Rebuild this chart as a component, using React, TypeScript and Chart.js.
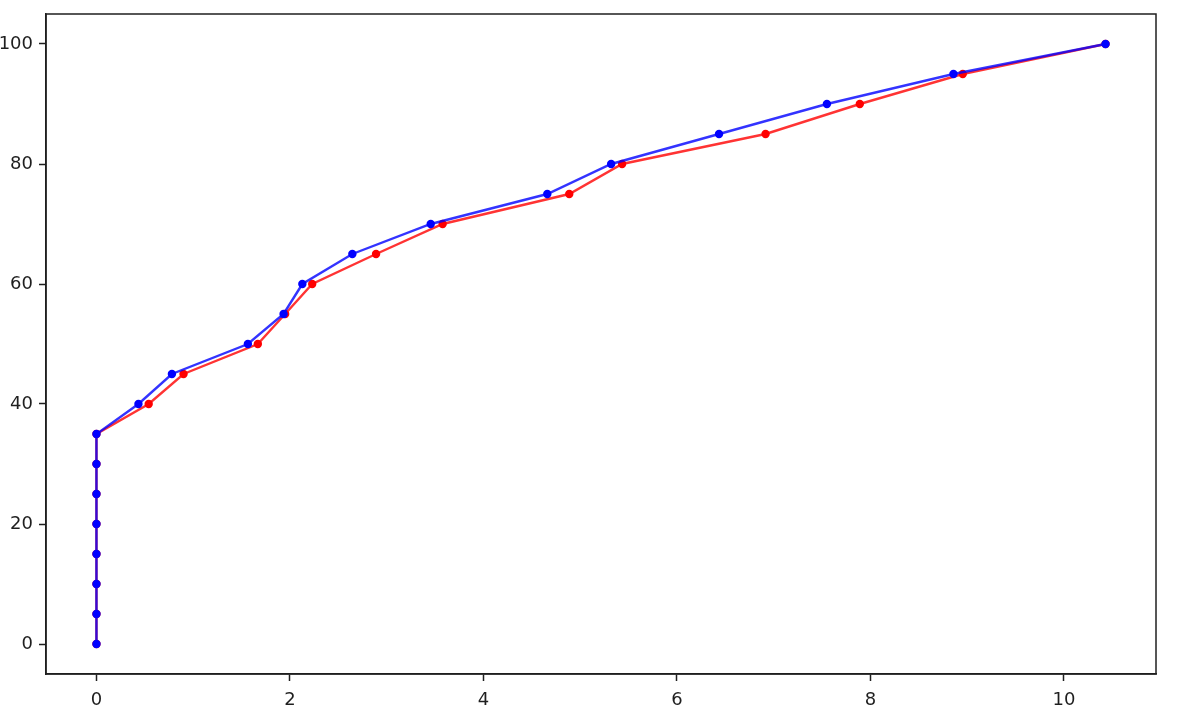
import React, { useEffect, useRef } from 'react';
import { Chart, registerables } from 'chart.js';

Chart.register(...registerables);

// y values shared by both series
const yValues = [0, 5, 10, 15, 20, 25, 30, 35, 40, 45, 50, 55, 60, 65, 70, 75, 80, 85, 90, 95, 100];

// x values
const blueX = [0, 0, 0, 0, 0, 0, 0, 0, 0.434, 0.78, 1.565, 1.934, 2.128, 2.645, 3.455, 4.66, 5.32, 6.435, 7.55, 8.858, 10.43];
const redX = [0, 0, 0, 0, 0, 0, 0, 0, 0.54, 0.9, 1.668, 1.95, 2.23, 2.89, 3.578, 4.887, 5.433, 6.916, 7.89, 8.954, 10.43];

const xTicks = [0, 2, 4, 6, 8, 10];
const yTicks = [0, 20, 40, 60, 80, 100];

const FONT = '"DejaVu Sans", sans-serif';
const INK = '#1f1f1f';

// draws the full box around the plot area, like matplotlib spines
const frame = {
  id: 'frame',
  afterDraw(chart: Chart) {
    const { ctx, chartArea } = chart;
    ctx.save();
    ctx.strokeStyle = INK;
    ctx.lineWidth = 1.5;
    ctx.strokeRect(chartArea.left, chartArea.top, chartArea.right - chartArea.left, chartArea.bottom - chartArea.top);
    ctx.restore();
  },
};

const App: React.FC = () => {
  const canvasRef = useRef<HTMLCanvasElement | null>(null);

  useEffect(() => {
    document.body.style.margin = '0';
    if (!canvasRef.current) return;

    const toPoints = (xs: number[]) => xs.map((x, i) => ({ x, y: yValues[i] }));

    const chart = new Chart(canvasRef.current, {
      type: 'line',
      data: {
        datasets: [
          {
            label: 'blue',
            data: toPoints(blueX),
            borderColor: 'rgba(0,0,255,0.8)',
            backgroundColor: '#0000ff',
            pointBackgroundColor: '#0000ff',
            pointBorderWidth: 0,
            pointRadius: 4.2,
            borderWidth: 2.4,
            tension: 0,
          },
          {
            label: 'red',
            data: toPoints(redX),
            borderColor: 'rgba(255,0,0,0.8)',
            backgroundColor: '#ff0000',
            pointBackgroundColor: '#ff0000',
            pointBorderWidth: 0,
            pointRadius: 4.2,
            borderWidth: 2.4,
            tension: 0,
          },
        ],
      },
      options: {
        animation: false,
        responsive: true,
        maintainAspectRatio: false,
        layout: { padding: { top: 14, right: 44, left: 0, bottom: 0 } },
        plugins: { legend: { display: false }, tooltip: { enabled: false } },
        scales: {
          x: {
            type: 'linear',
            min: -0.5215,
            max: 10.9515,
            afterBuildTicks: (scale: any) => {
              scale.ticks = xTicks.map(v => ({ value: v }));
            },
            afterFit: (scale: any) => {
              scale.height = 50;
              scale.paddingLeft = 0;
              scale.paddingRight = 0;
            },
            grid: { drawOnChartArea: false, tickLength: 7, tickColor: INK, tickWidth: 1.5 },
            border: { display: true, color: INK, width: 1.5 },
            ticks: { color: INK, padding: 9, font: { family: FONT, size: 18 }, maxRotation: 0 },
          },
          y: {
            type: 'linear',
            min: -5,
            max: 105,
            afterBuildTicks: (scale: any) => {
              scale.ticks = yTicks.map(v => ({ value: v }));
            },
            afterFit: (scale: any) => {
              scale.width = 46;
              scale.paddingTop = 0;
              scale.paddingBottom = 0;
            },
            grid: { drawOnChartArea: false, tickLength: 7, tickColor: INK, tickWidth: 1.5 },
            border: { display: true, color: INK, width: 1.5 },
            ticks: { color: INK, padding: 6, font: { family: FONT, size: 18 } },
          },
        },
      },
      plugins: [frame],
    });

    return () => chart.destroy();
  }, []);

  return (
    <div style={{ width: 1200, height: 724, position: 'relative', background: '#fff' }}>
      <canvas ref={canvasRef} />
    </div>
  );
};

export default App;
